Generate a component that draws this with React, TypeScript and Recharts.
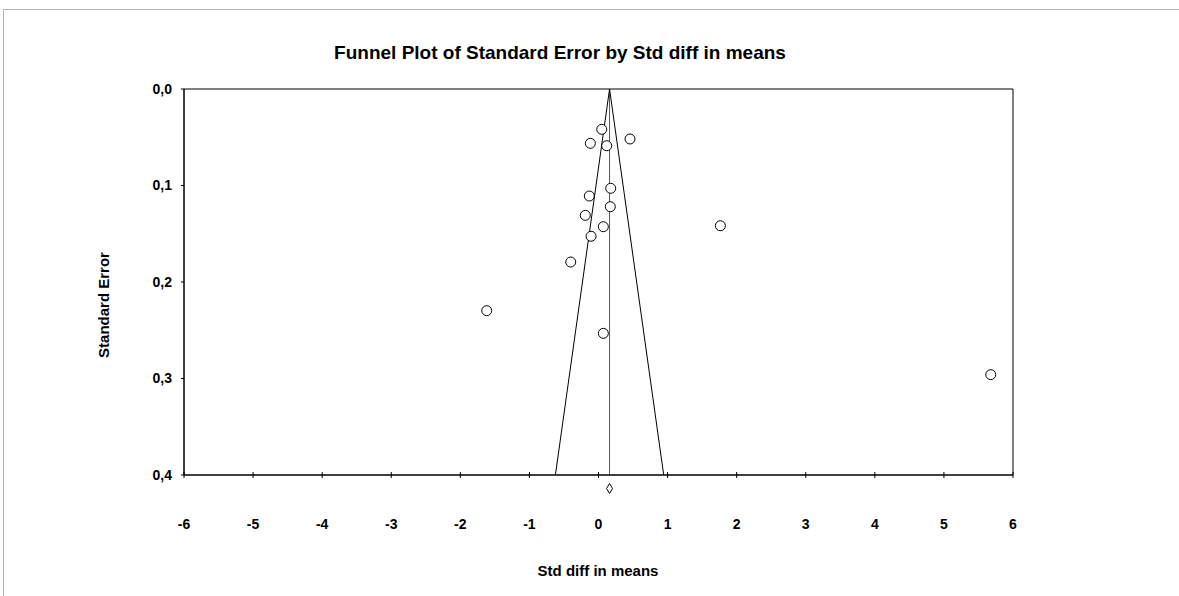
/* ── Funnel plot of standard error by std diff in means ── */

import {
  ScatterChart,
  Scatter,
  XAxis,
  YAxis,
  ReferenceLine,
  ReferenceArea,
  ReferenceDot,
} from "recharts";

const studyEffects = [
  0.047, -0.118, 0.119, 0.456, 0.177, -0.133, 0.171, -0.191, 0.07, -0.108,
  -0.402, 1.764, 0.07, 5.678, -1.618,
];
const studyErrors = [
  0.0418, 0.0563, 0.0588, 0.0518, 0.1029, 0.1109, 0.122, 0.1309, 0.1427,
  0.1526, 0.1793, 0.1417, 0.2532, 0.296, 0.2297,
];
const xTicks = [-6, -5, -4, -3, -2, -1, 0, 1, 2, 3, 4, 5, 6];
const yTicks = [0, 0.1, 0.2, 0.3, 0.4];

const pooledEffect = 0.16;
const funnelLeft = -0.624;
const funnelRight = 0.944;
const maxError = 0.4;
const summaryMarkerY = 0.414;

const font = '"Liberation Sans", Arial, sans-serif';

const points = studyEffects.map((x, i) => ({ x, y: studyErrors[i] }));

function XTick({ x, y, payload }: any) {
  return (
    <g>
      <line x1={x} x2={x} y1={y - 3} y2={y + 3} stroke="#000" />
      <text
        x={x}
        y={y + 49}
        textAnchor="middle"
        dominantBaseline="central"
        fontFamily={font}
        fontWeight="bold"
        fontSize={14}
        fill="#000"
      >
        {payload.value}
      </text>
    </g>
  );
}

function StudyDot({ cx, cy }: any) {
  return <circle cx={cx} cy={cy} r={5} fill="#fff" stroke="#000" strokeWidth={1} />;
}

function Diamond({ cx, cy }: any) {
  return (
    <path
      d={`M${cx},${cy - 5} L${cx + 3},${cy} L${cx},${cy + 5} L${cx - 3},${cy} Z`}
      fill="#fff"
      stroke="#000"
      strokeWidth={1}
    />
  );
}

export default function App() {
  return (
    <div
      style={{
        position: "absolute",
        left: 0,
        top: 0,
        width: 1179,
        height: 596,
        background: "#fff",
        fontFamily: font,
      }}
    >
      <div
        style={{
          position: "absolute",
          left: 3,
          top: 9,
          right: 0,
          bottom: 0,
          borderTop: "1px solid #b4b4b4",
          borderLeft: "1px solid #b4b4b4",
        }}
      />
      <ScatterChart
        width={1179}
        height={596}
        margin={{ top: 89, right: 166, left: 0, bottom: 0 }}
      >
        <XAxis
          type="number"
          dataKey="x"
          domain={[-6, 6]}
          ticks={xTicks}
          height={121}
          tickSize={0}
          tickMargin={0}
          tickLine={false}
          axisLine={{ stroke: "#000" }}
          tick={<XTick />}
        />
        <YAxis
          type="number"
          dataKey="y"
          domain={[0, maxError]}
          ticks={yTicks}
          reversed
          width={184}
          tickSize={3}
          tickMargin={9}
          tickLine={{ stroke: "#000" }}
          axisLine={{ stroke: "#000" }}
          tickFormatter={(v: number) => v.toFixed(1).replace(".", ",")}
          tick={{ fontFamily: font, fontWeight: "bold", fontSize: 14, fill: "#000" }}
        />
        <ReferenceArea
          x1={-6}
          x2={6}
          y1={0}
          y2={maxError}
          fill="none"
          stroke="#000"
          strokeWidth={1}
          fillOpacity={0}
        />
        <ReferenceLine x={pooledEffect} stroke="#555" strokeWidth={1} />
        <ReferenceLine
          segment={[
            { x: pooledEffect, y: 0 },
            { x: funnelLeft, y: maxError },
          ]}
          stroke="#000"
          strokeWidth={1}
        />
        <ReferenceLine
          segment={[
            { x: pooledEffect, y: 0 },
            { x: funnelRight, y: maxError },
          ]}
          stroke="#000"
          strokeWidth={1}
        />
        <Scatter data={points} shape={<StudyDot />} isAnimationActive={false} />
        <ReferenceDot
          x={pooledEffect}
          y={summaryMarkerY}
          ifOverflow="visible"
          shape={<Diamond />}
        />
      </ScatterChart>
      <div
        style={{
          position: "absolute",
          left: 560,
          top: 53,
          transform: "translate(-50%, -50%)",
          fontSize: 19,
          fontWeight: "bold",
          whiteSpace: "nowrap",
          color: "#000",
        }}
      >
        Funnel Plot of Standard Error by Std diff in means
      </div>
      <div
        style={{
          position: "absolute",
          left: 598,
          top: 570,
          transform: "translate(-50%, -50%)",
          fontSize: 15,
          fontWeight: "bold",
          whiteSpace: "nowrap",
          color: "#000",
        }}
      >
        Std diff in means
      </div>
      <div
        style={{
          position: "absolute",
          left: 103,
          top: 305,
          transform: "translate(-50%, -50%) rotate(-90deg)",
          fontSize: 15,
          fontWeight: "bold",
          whiteSpace: "nowrap",
          color: "#000",
        }}
      >
        Standard Error
      </div>
    </div>
  );
}
